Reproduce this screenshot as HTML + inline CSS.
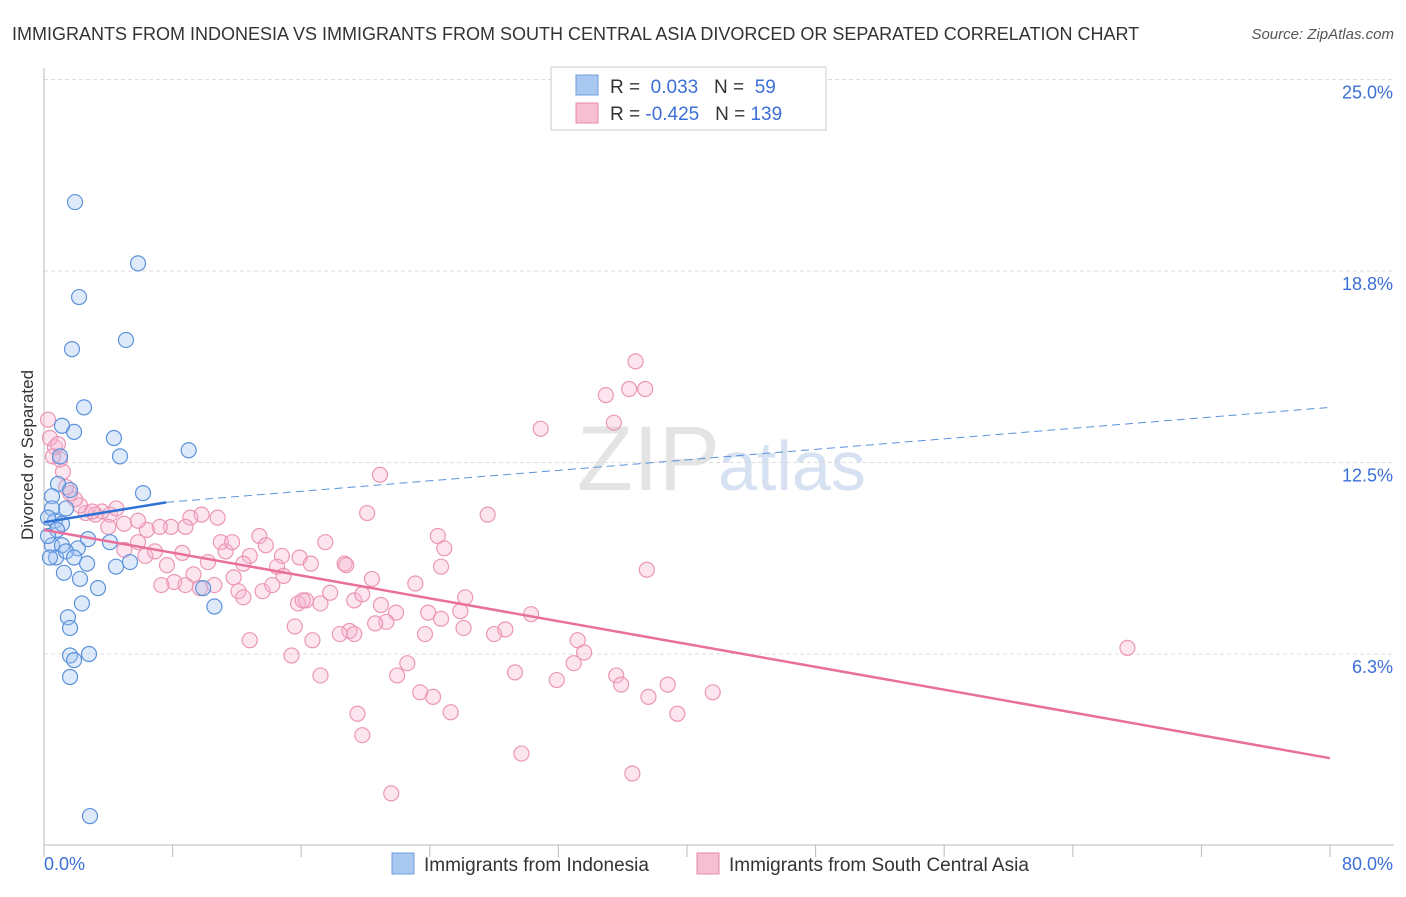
<!DOCTYPE html>
<html><head><meta charset="utf-8"><style>
body{margin:0;background:#fff;font-family:"Liberation Sans",sans-serif;}
svg text{font-family:"Liberation Sans",sans-serif;}
</style></head><body>
<svg id="c" width="1406" height="892" xmlns="http://www.w3.org/2000/svg">
<text x="12" y="40" font-size="18" fill="#333">IMMIGRANTS FROM INDONESIA VS IMMIGRANTS FROM SOUTH CENTRAL ASIA DIVORCED OR SEPARATED CORRELATION CHART</text>
<text x="1394" y="39" font-size="15" fill="#555" font-style="italic" text-anchor="end">Source: ZipAtlas.com</text>
<text x="720" y="490" font-size="92" fill="#e4e4e4" text-anchor="end" font-family="Liberation Serif">ZIP</text>
<text x="718" y="490" font-size="70" fill="#d6e2f2">atlas</text>
<text transform="translate(33,455) rotate(-90)" font-size="17" fill="#333" text-anchor="middle">Divorced or Separated</text>
<g id="grid"></g><g id="marks"></g>
<g>
<rect x="551" y="67" width="275" height="63" fill="#fff" stroke="#ccc"/>
<rect x="576" y="75" width="22" height="20" fill="#a9c8f0" stroke="#6f9fdc"/>
<rect x="576" y="103" width="22" height="20" fill="#f7bfd2" stroke="#e68aab"/>
<text x="610" y="93" font-size="19" fill="#333">R = <tspan fill="#3b6fd8">&#160;0.033</tspan>&#160;&#160;&#160;N = <tspan fill="#3b6fd8">&#160;59</tspan></text>
<text x="610" y="120" font-size="19" fill="#333">R = <tspan fill="#3b6fd8">-0.425</tspan>&#160;&#160;&#160;N = <tspan fill="#3b6fd8">139</tspan></text>
</g>
<g>
<rect x="392" y="853" width="22" height="21" fill="#a9c8f0" stroke="#6f9fdc"/>
<text x="424" y="871" font-size="19" fill="#333">Immigrants from Indonesia</text>
<rect x="697" y="853" width="22" height="21" fill="#f7bfd2" stroke="#e68aab"/>
<text x="729" y="871" font-size="19" fill="#333">Immigrants from South Central Asia</text>
</g>
</svg>
<script>
const xTicks=[0,8,16,24,32,40,48,56,64,72,80];
const yTicks=[6.25,12.5,18.75,25];
const yTickLabels=["6.3%","12.5%","18.8%","25.0%"];
const blueX=[1.93,5.85,2.18,5.1,1.74,2.49,1.87,4.35,1.12,9.0,4.73,1.0,6.16,0.87,1.62,0.5,1.37,0.5,0.68,1.12,0.25,0.81,2.74,4.1,0.5,1.12,2.1,0.75,1.37,1.87,2.68,5.35,4.48,1.24,2.24,3.36,9.9,2.36,10.6,1.49,1.62,1.62,2.8,1.87,1.62,2.86,0.25,0.37];
const blueY=[21.0,19.0,17.9,16.5,16.2,14.3,13.5,13.3,13.7,12.9,12.7,12.7,11.5,11.8,11.6,11.4,11.0,11.0,10.6,10.5,10.7,10.3,10.0,9.9,9.8,9.8,9.7,9.4,9.6,9.4,9.2,9.25,9.1,8.9,8.7,8.4,8.4,7.9,7.8,7.45,7.1,6.2,6.25,6.05,5.5,0.96,10.1,9.4];
const pinkX=[36.8,36.4,37.4,34.95,35.45,30.9,20.9,27.6,20.1,24.5,24.9,37.5,67.4,17.5,13.4,13.8,11.0,10.8,9.8,9.1,8.8,7.9,7.2,6.4,5.85,4.98,4.1,3.6,3.2,2.6,2.24,1.93,1.62,1.37,1.18,1.0,0.68,0.37,0.87,0.56,0.25,5.0,6.3,6.9,8.6,10.2,11.3,12.8,14.8,15.9,18.7,16.6,14.5,12.4,7.65,9.3,8.1,7.3,8.8,9.7,10.6,11.8,12.1,12.4,13.6,14.9,14.2,15.8,16.3,17.2,17.8,19.3,19.8,20.4,20.96,21.9,23.1,23.9,24.7,26.2,25.9,24.7,30.3,21.3,20.6,19.0,15.6,18.4,19.3,16.7,12.8,23.7,26.1,28.0,28.7,33.2,33.6,32.95,15.4,22.6,21.97,17.2,29.3,31.9,35.6,35.9,38.8,37.6,41.6,23.4,24.2,25.3,39.4,19.5,19.8,29.7,36.6,21.6,11.7,5.85,4.0,3.0,4.5,18.8,16.1];
const pinkY=[15.8,14.9,14.9,14.7,13.8,13.6,12.1,10.8,10.85,10.1,9.7,9.0,6.45,9.9,10.1,9.8,9.9,10.7,10.8,10.7,10.4,10.4,10.4,10.3,10.6,10.5,10.8,10.9,10.8,10.85,11.1,11.3,11.5,11.7,12.2,12.6,13.0,13.3,13.1,12.7,13.9,9.65,9.45,9.6,9.55,9.25,9.6,9.45,9.45,9.4,9.2,9.2,9.1,9.2,9.15,8.85,8.6,8.5,8.5,8.4,8.5,8.75,8.3,8.1,8.3,8.8,8.5,7.9,8.0,7.9,8.25,8.0,8.2,8.7,7.85,7.6,8.55,7.6,9.1,8.1,7.65,7.4,7.55,7.3,7.25,7.0,7.15,6.9,6.9,6.7,6.7,6.9,7.1,6.9,7.05,6.7,6.3,5.95,6.2,5.95,5.55,5.55,5.65,5.4,5.55,5.25,5.25,4.85,5.0,5.0,4.85,4.35,4.3,4.3,3.6,3.0,2.35,1.7,9.9,9.9,10.4,10.9,11.0,9.15,8.0];
const blueTrend=[0,10.55,7.6,11.2,80,14.3];
const pinkTrend=[0,10.3,80,2.85];
const X=v=>44+v/80*1286, Y=v=>845.5-v/6.25*191.5;
const NS="http://www.w3.org/2000/svg";
function mk(p,t,a){const e=document.createElementNS(NS,t);for(const k in a)e.setAttribute(k,a[k]);p.appendChild(e);return e;}
const g=document.getElementById('grid'),m=document.getElementById('marks');
yTicks.forEach((t,i)=>{
 const l=mk(g,'line',{x1:44,x2:1394,y1:Y(t),y2:Y(t),stroke:'#ddd','stroke-dasharray':'4,3'});
 
 
 const tx=mk(g,'text',{x:1393,y:Y(t)+19,'font-size':18,fill:'#3b6fd8','text-anchor':'end'});
 tx.textContent=yTickLabels[i];
 
 
});
const ax=mk(g,'line',{x1:44,x2:1394,y1:845,y2:845,stroke:'#bbb'});


const ay=mk(g,'line',{x1:44,x2:44,y1:68,y2:845,stroke:'#bbb'});


xTicks.forEach(t=>{const l=mk(g,'line',{x1:X(t),x2:X(t),y1:845,y2:857,stroke:'#bbb'});
 
 });
const t0=mk(g,'text',{x:44,y:870,'font-size':18,fill:'#3b6fd8'});t0.textContent=xTicks[0].toFixed(1)+'%';


const t1=mk(g,'text',{x:1393,y:870,'font-size':18,fill:'#3b6fd8','text-anchor':'end'});t1.textContent=xTicks[10].toFixed(1)+'%';


pinkX.forEach((x,i)=>{const c=mk(m,'circle',{cx:X(x),cy:Y(pinkY[i]),r:7.5,fill:'rgba(247,180,205,0.35)',stroke:'#ec96b5','stroke-width':1.2});
 
 });
blueX.forEach((x,i)=>{const c=mk(m,'circle',{cx:X(x),cy:Y(blueY[i]),r:7.5,fill:'rgba(160,195,240,0.35)',stroke:'#5b92dc','stroke-width':1.2});
 
 });
const b1=mk(m,'line',{x1:X(blueTrend[0]),y1:Y(blueTrend[1]),x2:X(blueTrend[2]),y2:Y(blueTrend[3]),stroke:'#2f72d6','stroke-width':2.5});


const b2=mk(m,'line',{x1:X(blueTrend[2]),y1:Y(blueTrend[3]),x2:X(blueTrend[4]),y2:Y(blueTrend[5]),stroke:'#5b92dc','stroke-width':1,'stroke-dasharray':'8,5'});


const p1=mk(m,'line',{x1:X(pinkTrend[0]),y1:Y(pinkTrend[1]),x2:X(pinkTrend[2]),y2:Y(pinkTrend[3]),stroke:'#e8709a','stroke-width':2.5});


</script>
</body></html>
